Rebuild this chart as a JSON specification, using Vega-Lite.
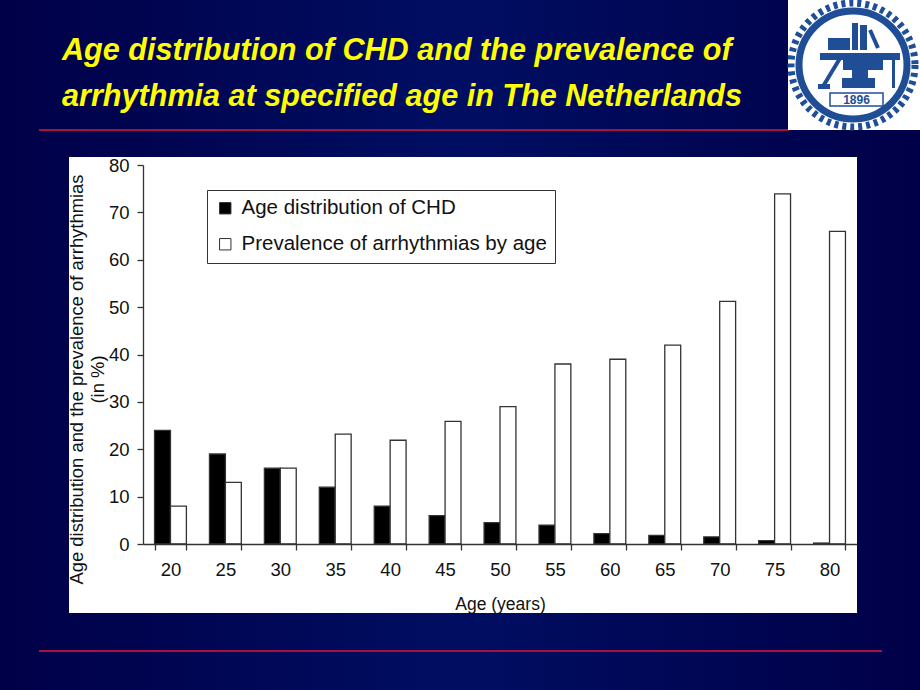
{
"$schema":"https://vega.github.io/schema/vega-lite/v6.json",
"width":920,"height":690,"padding":0,"autosize":{"type":"none"},
"background":"#00004e",
"config":{"view":{"stroke":null},"font":"Liberation Sans"},
"datasets":{
"bg":[{"a":0,"b":920,"c":0,"d":690}],
"panel":[{"a":69,"b":857,"c":157,"d":613}],
"lines":[{"a":39,"b":789,"c":130},{"a":39,"b":882,"c":651}],
"logoBg":[{"a":788,"b":920,"c":0,"d":130}],
"gear":[{"a":853,"c":65}],
"logoBlocks":[{"a":828,"b":850,"c":38,"d":50},{"a":852,"b":858,"c":23,"d":50},{"a":860,"b":867,"c":25,"d":50},{"a":820,"b":900,"c":53,"d":60},{"a":843,"b":883,"c":60,"d":70},{"a":852,"b":868,"c":70,"d":78},{"a":842,"b":875,"c":78,"d":88},{"a":892,"b":895,"c":60,"d":88},{"a":818,"b":830,"c":84,"d":89}],
"logoSlants":[{"a":842,"b":822,"c":55,"d":88},{"a":870,"b":878,"c":30,"d":48}],
"logoBox":[{"a":830,"b":883,"c":93,"d":106}],
"logoYear":[{"a":856.5,"c":104,"t":"1896"}],
"heading":[{"a":62,"c":60,"t":"Age distribution of CHD and the prevalence of"},{"a":62,"c":106,"t":"arrhythmia at specified age in The Netherlands"}],
"bars":[
{"age":"20","series":"Age distribution of CHD","v":24},{"age":"20","series":"Prevalence of arrhythmias by age","v":8},
{"age":"25","series":"Age distribution of CHD","v":19},{"age":"25","series":"Prevalence of arrhythmias by age","v":13},
{"age":"30","series":"Age distribution of CHD","v":16},{"age":"30","series":"Prevalence of arrhythmias by age","v":16},
{"age":"35","series":"Age distribution of CHD","v":12},{"age":"35","series":"Prevalence of arrhythmias by age","v":23.2},
{"age":"40","series":"Age distribution of CHD","v":8},{"age":"40","series":"Prevalence of arrhythmias by age","v":21.9},
{"age":"45","series":"Age distribution of CHD","v":6},{"age":"45","series":"Prevalence of arrhythmias by age","v":25.9},
{"age":"50","series":"Age distribution of CHD","v":4.5},{"age":"50","series":"Prevalence of arrhythmias by age","v":29},
{"age":"55","series":"Age distribution of CHD","v":4},{"age":"55","series":"Prevalence of arrhythmias by age","v":38},
{"age":"60","series":"Age distribution of CHD","v":2.2},{"age":"60","series":"Prevalence of arrhythmias by age","v":39},
{"age":"65","series":"Age distribution of CHD","v":1.8},{"age":"65","series":"Prevalence of arrhythmias by age","v":42},
{"age":"70","series":"Age distribution of CHD","v":1.5},{"age":"70","series":"Prevalence of arrhythmias by age","v":51.2},
{"age":"75","series":"Age distribution of CHD","v":0.7},{"age":"75","series":"Prevalence of arrhythmias by age","v":73.9},
{"age":"80","series":"Age distribution of CHD","v":0.2},{"age":"80","series":"Prevalence of arrhythmias by age","v":66}
]},
"resolve":{"scale":{"x":"independent","y":"independent","color":"independent"}},
"layer":[
{"data":{"name":"bg"},"mark":{"type":"rect","color":{"gradient":"linear","x1":0,"y1":0,"x2":1,"y2":0,"stops":[{"offset":0,"color":"#000048"},{"offset":0.5,"color":"#000e62"},{"offset":1,"color":"#000048"}]}},
"encoding":{"x":{"field":"a","type":"quantitative","axis":null,"scale":{"domain":[0,920],"range":[0,920],"nice":false,"zero":false}},"x2":{"field":"b"},"y":{"field":"c","type":"quantitative","axis":null,"scale":{"domain":[0,690],"range":[0,690],"nice":false,"zero":false}},"y2":{"field":"d"}}},
{"data":{"name":"panel"},"mark":{"type":"rect","color":"#ffffff"},
"encoding":{"x":{"field":"a","type":"quantitative","axis":null,"scale":{"domain":[0,920],"range":[0,920],"nice":false,"zero":false}},"x2":{"field":"b"},"y":{"field":"c","type":"quantitative","axis":null,"scale":{"domain":[0,690],"range":[0,690],"nice":false,"zero":false}},"y2":{"field":"d"}}},
{"data":{"name":"lines"},"mark":{"type":"rule","color":"#a5123f","strokeWidth":2},
"encoding":{"x":{"field":"a","type":"quantitative","axis":null,"scale":{"domain":[0,920],"range":[0,920],"nice":false,"zero":false}},"x2":{"field":"b"},"y":{"field":"c","type":"quantitative","axis":null,"scale":{"domain":[0,690],"range":[0,690],"nice":false,"zero":false}}}},
{"data":{"name":"logoBg"},"mark":{"type":"rect","color":"#ffffff"},
"encoding":{"x":{"field":"a","type":"quantitative","axis":null,"scale":{"domain":[0,920],"range":[0,920],"nice":false,"zero":false}},"x2":{"field":"b"},"y":{"field":"c","type":"quantitative","axis":null,"scale":{"domain":[0,690],"range":[0,690],"nice":false,"zero":false}},"y2":{"field":"d"}}},
{"data":{"name":"gear"},"mark":{"type":"point","shape":"circle","size":15376,"filled":false,"stroke":"#1f4e96","strokeWidth":7,"strokeDash":[4,4],"opacity":1},
"encoding":{"x":{"field":"a","type":"quantitative","axis":null,"scale":{"domain":[0,920],"range":[0,920],"nice":false,"zero":false}},"y":{"field":"c","type":"quantitative","axis":null,"scale":{"domain":[0,690],"range":[0,690],"nice":false,"zero":false}}}},
{"data":{"name":"gear"},"mark":{"type":"point","shape":"circle","size":11664,"filled":false,"stroke":"#1f4e96","strokeWidth":7,"opacity":1},
"encoding":{"x":{"field":"a","type":"quantitative","axis":null,"scale":{"domain":[0,920],"range":[0,920],"nice":false,"zero":false}},"y":{"field":"c","type":"quantitative","axis":null,"scale":{"domain":[0,690],"range":[0,690],"nice":false,"zero":false}}}},
{"data":{"name":"logoBlocks"},"mark":{"type":"rect","color":"#1f4e96"},
"encoding":{"x":{"field":"a","type":"quantitative","axis":null,"scale":{"domain":[0,920],"range":[0,920],"nice":false,"zero":false}},"x2":{"field":"b"},"y":{"field":"c","type":"quantitative","axis":null,"scale":{"domain":[0,690],"range":[0,690],"nice":false,"zero":false}},"y2":{"field":"d"}}},
{"data":{"name":"logoSlants"},"mark":{"type":"rule","color":"#1f4e96","strokeWidth":4},
"encoding":{"x":{"field":"a","type":"quantitative","axis":null,"scale":{"domain":[0,920],"range":[0,920],"nice":false,"zero":false}},"x2":{"field":"b"},"y":{"field":"c","type":"quantitative","axis":null,"scale":{"domain":[0,690],"range":[0,690],"nice":false,"zero":false}},"y2":{"field":"d"}}},
{"data":{"name":"logoBox"},"mark":{"type":"rect","fill":"#ffffff","stroke":"#1f4e96","strokeWidth":1.5},
"encoding":{"x":{"field":"a","type":"quantitative","axis":null,"scale":{"domain":[0,920],"range":[0,920],"nice":false,"zero":false}},"x2":{"field":"b"},"y":{"field":"c","type":"quantitative","axis":null,"scale":{"domain":[0,690],"range":[0,690],"nice":false,"zero":false}},"y2":{"field":"d"}}},
{"data":{"name":"logoYear"},"mark":{"type":"text","color":"#1f4e96","fontSize":12,"fontWeight":"bold","align":"center","baseline":"alphabetic"},
"encoding":{"text":{"field":"t"},"x":{"field":"a","type":"quantitative","axis":null,"scale":{"domain":[0,920],"range":[0,920],"nice":false,"zero":false}},"y":{"field":"c","type":"quantitative","axis":null,"scale":{"domain":[0,690],"range":[0,690],"nice":false,"zero":false}}}},
{"data":{"name":"heading"},"mark":{"type":"text","color":"#ffff00","font":"Liberation Sans","fontSize":30.6,"fontWeight":"bold","fontStyle":"italic","align":"left","baseline":"alphabetic"},
"encoding":{"text":{"field":"t"},"x":{"field":"a","type":"quantitative","axis":null,"scale":{"domain":[0,920],"range":[0,920],"nice":false,"zero":false}},"y":{"field":"c","type":"quantitative","axis":null,"scale":{"domain":[0,690],"range":[0,690],"nice":false,"zero":false}}}},
{"data":{"name":"bars"},"mark":{"type":"bar","stroke":"#333333","strokeWidth":1.3},
"encoding":{
"x":{"field":"age","type":"nominal","sort":null,"scale":{"range":[143,857],"paddingInner":0.42,"paddingOuter":0.21},
"axis":{"zindex":2,"orient":"bottom","offset":-146,"title":"Age (years)","titleFont":"Liberation Sans","titleFontSize":17.5,"titleFontWeight":"normal","titleColor":"#111111","titleX":500,"titleY":65,"titleBaseline":"alphabetic","labelAngle":0,"labelFontSize":18.5,"labelFontWeight":"normal","labelColor":"#111111","labelPadding":10,"tickColor":"#333333","tickSize":6,"tickWidth":1.3,"domainColor":"#333333","domainWidth":1.3,"tickBand":"extent","grid":false}},
"xOffset":{"field":"series","type":"nominal","sort":["Age distribution of CHD","Prevalence of arrhythmias by age"]},
"y":{"field":"v","type":"quantitative","scale":{"domain":[0,80],"range":[544,165],"nice":false},
"axis":{"zindex":2,"orient":"left","offset":-143,"values":[0,10,20,30,40,50,60,70,80],"title":["Age distribution and the prevalence of arrhythmias","(in %)"],"titleFont":"Liberation Sans","titleFontSize":18.4,"titleFontWeight":"normal","titleColor":"#111111","titleAngle":-90,"titleAlign":"center","titleBaseline":"alphabetic","titleLineHeight":21,"titleX":-61,"titleY":379,"labelFontSize":18.5,"labelColor":"#111111","labelPadding":8,"tickColor":"#333333","tickSize":6,"tickWidth":1.3,"domainColor":"#333333","domainWidth":1.3,"grid":false}},
"color":{"field":"series","type":"nominal","sort":["Age distribution of CHD","Prevalence of arrhythmias by age"],"scale":{"domain":["Age distribution of CHD","Prevalence of arrhythmias by age"],"range":["#000000","#ffffff"]},
"legend":{"orient":"none","legendX":207,"legendY":190,"title":null,"fillColor":"#ffffff","strokeColor":"#333333","padding":8,"symbolType":"square","symbolSize":130,"symbolStrokeColor":"#333333","symbolStrokeWidth":1,"labelFont":"Liberation Sans","labelFontSize":20.5,"labelLimit":400,"labelColor":"#111111","rowPadding":15,"labelOffset":6}}
}}
]}
